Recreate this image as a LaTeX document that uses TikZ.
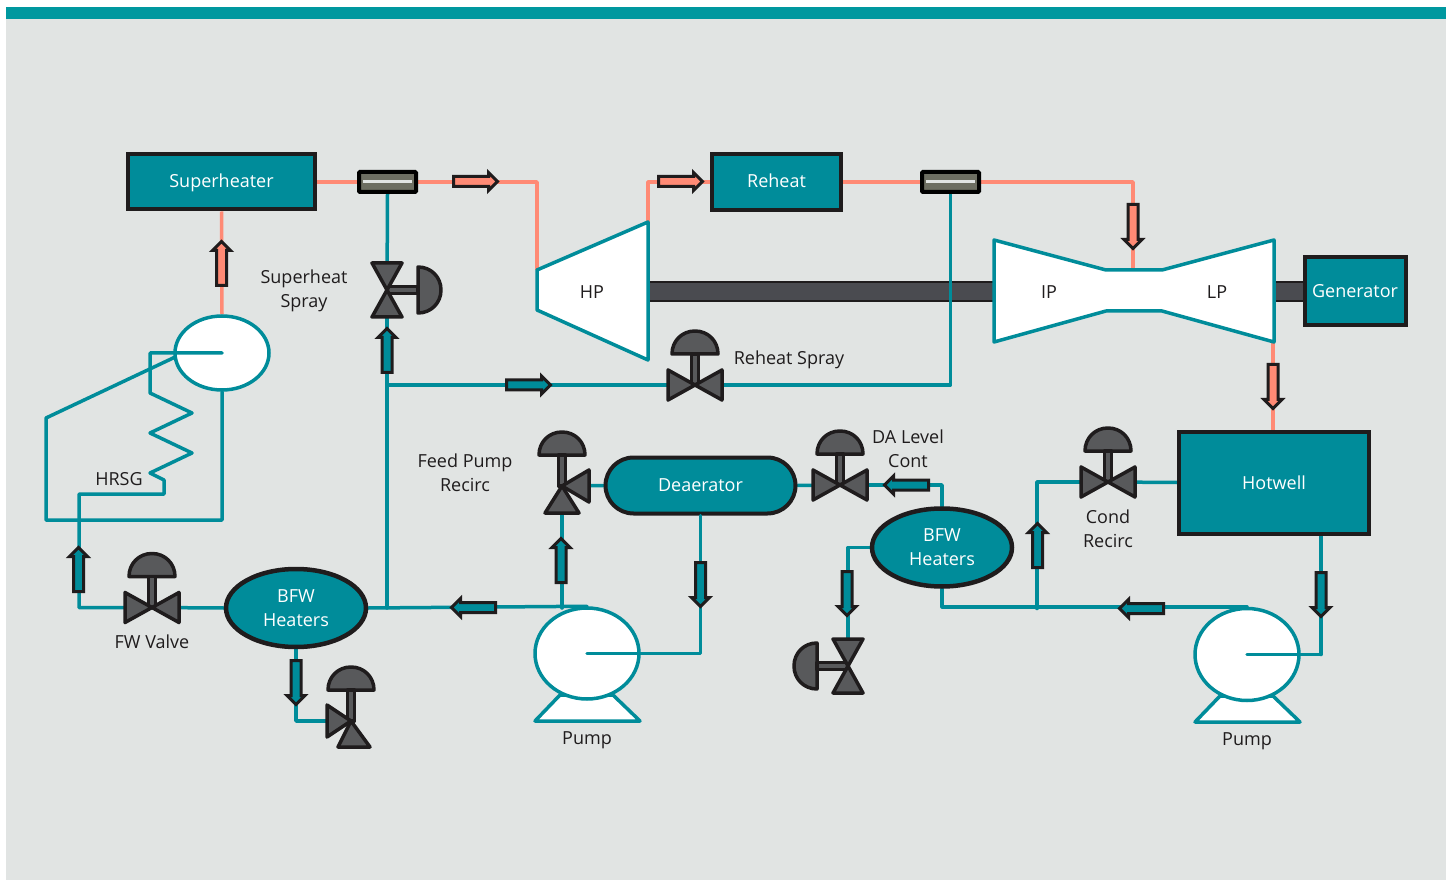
\documentclass[tikz,border=0pt]{standalone}
\usepackage{fontspec}
\setmainfont{Open Sans}
\usetikzlibrary{shapes.geometric,shapes.arrows,calc}
\definecolor{bgc}{HTML}{E1E4E3}
\definecolor{barc}{HTML}{00989F}
\definecolor{teal1}{HTML}{008C9A}
\definecolor{salm}{HTML}{FF8A75}
\definecolor{ink}{HTML}{1F1C1D}
\definecolor{vgray}{HTML}{58595B}
\definecolor{shaftc}{HTML}{4A4B50}
\definecolor{desupc}{HTML}{6D6E62}
\pgfdeclarelayer{bglines}
\pgfsetlayers{bglines,main}
\newcommand{\domeparts}{%
  \path[valveparts] (-23,-31) .. controls (-23,-44) and (-13,-54) .. (0,-54) .. controls (13,-54) and (23,-44) .. (23,-31) -- cycle;
  \path[valveparts] (-3.5,-31) rectangle (3.5,0);}
\newcommand{\boxtext}[1]{\raisebox{0pt}[14pt][2.4pt]{#1}}
\tikzset{
  x=1pt,y=-1pt,
  lbl/.style={font=\fontsize{18}{24}\selectfont,text=ink,align=center,inner sep=0},
  box/.style={draw=ink,line width=4pt,fill=teal1,rectangle,inner sep=0,font=\fontsize{18}{24}\selectfont,text=white,align=center},
  oval/.style={draw=ink,line width=4.5pt,fill=teal1,ellipse,inner sep=0,font=\fontsize{18}{24}\selectfont,text=white,align=center},
  hollow/.style={draw=teal1,line width=3.5pt,fill=white,ellipse,inner sep=0},
  tealline/.style={draw=teal1,line width=3.5pt,line join=round,line cap=round},
  salmline/.style={draw=salm,line width=3.5pt,line join=round},
  desup/.style={draw=black,line width=4pt,fill=desupc,rectangle,rounded corners=1pt,minimum width=57pt,minimum height=20pt,inner sep=0},
  desupbar/.style={fill=bgc,rectangle,minimum width=49pt,minimum height=3.5pt,inner sep=0},
  flow/.style={single arrow,draw=ink,line width=3pt,line join=miter,inner sep=0,text height=7pt,text depth=0pt,text width=0pt,minimum height=44pt,minimum width=15pt,single arrow head extend=4pt,single arrow head indent=0pt},
  salmflow/.style={flow,fill=salm},
  tealflow/.style={flow,fill=teal1},
  valveparts/.style={draw=ink,line width=3.5pt,fill=vgray,line join=round},
  valvetwo/.pic={\domeparts
    \path[valveparts] (0,0) -- (-27,-15) -- (-27,15) -- cycle;
    \path[valveparts] (0,0) -- (27,-15) -- (27,15) -- cycle;},
  valvethree/.pic={\domeparts
    \path[valveparts] (0,0) -- (27,-16) -- (27,16) -- cycle;
    \path[valveparts] (0,0) -- (-17,27) -- (17,27) -- cycle;},
  valvefour/.pic={\domeparts
    \path[valveparts] (0,0) -- (-24,-16) -- (-24,16) -- cycle;
    \path[valveparts] (0,0) -- (-13,26) -- (19,26) -- cycle;},
}
\begin{document}
\begin{tikzpicture}
\useasboundingbox (0,0) rectangle (1451,882);
\begin{pgfonlayer}{bglines}
\fill[bgc] (6,19) rectangle (1446,880);
\fill[barc] (6,7) rectangle (1446,19);
\path[draw=ink,line width=2pt,fill=shaftc] (648,282) rectangle (1306,301);
\end{pgfonlayer}

% junction coordinates
\coordinate (hpsw) at (537,270);
\coordinate (hpne) at (648,222);
\coordinate (hpse) at (648,360);
\coordinate (hpnw) at (537,310);
\coordinate (neck) at (1133,270);
\coordinate (lpbot) at (1273,340);
\coordinate (vspray) at (387,290);
\coordinate (vreheat) at (695,385);
\coordinate (vfeed) at (562,486);
\coordinate (vda) at (840,485);
\coordinate (vcond) at (1108,482);
\coordinate (vfw) at (152,607.5);
\coordinate (vbfwa) at (351,721);
\coordinate (vbfwb) at (848,666);
\coordinate (pumpaeye) at (587,653.5);
\coordinate (pumpbeye) at (1247,654.5);
\coordinate (drumeye) at (222,353);
\coordinate (sprayjoin) at (387,385);
\coordinate (mainjoin) at (387,608);
\coordinate (feedjoin) at (562,608);
\coordinate (condjoin) at (1037,608.5);
\coordinate (hwdrop) at (1321,534);
\coordinate (hwcorner) at (1321,654.5);

% boxes
\node[box,minimum width=187.5pt,minimum height=55pt] (superheater) at (221.5,182) {\boxtext{Superheater}};
\node[box,minimum width=129.5pt,minimum height=56pt] (reheat) at (776.5,182) {\boxtext{Reheat}};
\node[box,minimum width=101pt,minimum height=68pt] (generator) at (1355,291.5) {\boxtext{Generator}};
\node[box,minimum width=190pt,minimum height=102pt] (hotwell) at (1274,482.5) {Hotwell};
\node[box,rounded corners=28pt,minimum width=190pt,minimum height=56pt] (deaerator) at (700.5,485.5) {\boxtext{Deaerator}};
\node[oval,minimum width=140pt,minimum height=78pt] (bfwa) at (296,608) {BFW\\Heaters};
\node[oval,minimum width=140pt,minimum height=78pt] (bfwb) at (942,547.5) {BFW\\Heaters};
\node[desup] (desupa) at (387.5,182) {};
\node[desupbar] (desupabar) at (387.5,181.5) {};
\node[desup] (desupb) at (950.5,182) {};
\node[desupbar] (desupbbar) at (950.5,181.5) {};

% turbines
\path[draw=teal1,line width=3.5pt,fill=white,line join=round] (hpsw) -- (hpne) -- (hpse) -- (hpnw) -- cycle;
\path[draw=teal1,line width=3.5pt,fill=white,line join=round] (994,240) -- (1106,270) -- (1162,270) -- (1274,240) -- (1274,342) -- (1162,311) -- (1106,311) -- (994,342) -- cycle;

% pumps and drum
\path[draw=teal1,line width=3.5pt,fill=white,line join=round] (560,695) -- (535,721) -- (640,721) -- (613,695) -- cycle;
\path[draw=teal1,line width=3.5pt,fill=white,line join=round] (1220,696) -- (1195,722) -- (1300,722) -- (1273,696) -- cycle;
\node[hollow,minimum width=104pt,minimum height=91pt] (pumpa) at (pumpaeye) {};
\node[hollow,minimum width=104pt,minimum height=92pt] (pumpb) at (pumpbeye) {};
\node[hollow,minimum width=94pt,minimum height=74pt] (drum) at (drumeye) {};

% connectors under the shapes
\begin{pgfonlayer}{bglines}
\path[salmline] (superheater.east) -- (desupa.west);
\path[salmline] (desupa.east) -| (hpsw);
\path[salmline] (hpne) |- (reheat.west);
\path[salmline] (reheat.east) -- (desupb.west);
\path[salmline] (desupb.east) -| (neck);
\path[salmline] (lpbot) -- (hotwell.north -| lpbot);
\path[salmline] (superheater.south) -- (drum.north);
\path[tealline] (desupa.south) -- (vspray);
\path[tealline] (vspray) -- (mainjoin);
\path[tealline] (sprayjoin) -- (vreheat);
\path[tealline] (vreheat) -| (desupb.south);
\path[tealline] (bfwa.east) -- (pumpa.north);
\path[tealline] (feedjoin) -- (vfeed);
\path[tealline] (vfeed) -- (deaerator.west);
\path[tealline] (deaerator.east) -- (vda);
\path[tealline] (vda) -| (bfwb.north);
\path[tealline] (bfwb.west) -| (vbfwb);
\path[tealline] (bfwb.south) |- (pumpb.north);
\path[tealline] (condjoin) |- (vcond);
\path[tealline] (vcond) -- (hotwell.west);
\path[tealline] (hwdrop) -- (hwcorner);
\path[tealline] (vfw) -- (bfwa.west);
\path[tealline] (bfwa.south) |- (vbfwa);
\end{pgfonlayer}

% connectors drawn over the hollow shapes
\path[tealline] (pumpaeye) -| (deaerator.south);
\path[tealline] (pumpbeye) -- (hwcorner);
\coordinate (coila) at (150,353);
\path[tealline] (drumeye) -- (coila) -- (150,393) -- (192,413) -- (150,433) -- (192,453) -- (150,473) -- (164,480) -- (164,494) -- (79,494) -- (79,607.5) -- (vfw);
\path[tealline] (drum.west) ++(2,4) -- (46,418) -- (46,520) -- (222,520) -- (drum.south);

% valves
\pic at (vreheat) {valvetwo};
\pic at (vda) {valvetwo};
\pic at (vcond) {valvetwo};
\pic at (vfw) {valvetwo};
\pic[rotate=-90] at (vspray) {valvetwo};
\pic[rotate=90] at (vbfwb) {valvetwo};
\pic at (vfeed) {valvethree};
\pic at (vbfwa) {valvefour};

% flow arrows
\node[salmflow] (fa) at (473,181.5) {};
\node[salmflow] (fb) at (678,181.5) {};
\node[salmflow,rotate=-90] (fc) at (1133,224) {};
\node[salmflow,rotate=-90] (fd) at (1273,384) {};
\node[salmflow,rotate=90] (fe) at (221.5,266) {};
\node[tealflow,rotate=90] (ff) at (387,353) {};
\node[tealflow] (fg) at (526,385) {};
\node[tealflow,rotate=180] (fh) at (476,607.5) {};
\node[tealflow,rotate=90] (fi) at (561,563) {};
\node[tealflow,rotate=-90] (fj) at (700.5,582) {};
\node[tealflow,rotate=90] (fk) at (78.5,572) {};
\node[tealflow,rotate=-90] (fl) at (296,680) {};
\node[tealflow,rotate=180] (fm) at (909,485) {};
\node[tealflow,rotate=-90] (fn) at (847,591) {};
\node[tealflow,rotate=90] (fo) at (1037.5,548) {};
\node[tealflow,rotate=180] (fp) at (1144,608.5) {};
\node[tealflow,rotate=-90] (fq) at (1321,592) {};

% labels
\node[lbl] (tspray) at (304,290.5) {Superheat\\Spray};
\node[lbl] (treheat) at (789,360) {Reheat Spray};
\node[lbl] (tda) at (908,449) {DA Level\\Cont};
\node[lbl] (tfeed) at (465,473) {Feed Pump\\Recirc};
\node[lbl] (tcond) at (1108,529) {Cond\\Recirc};
\node[lbl] (tfw) at (152,642) {FW Valve};
\node[lbl] (thrsg) at (119,479) {HRSG};
\node[lbl] (thp) at (592,292) {HP};
\node[lbl] (tip) at (1049,292) {IP};
\node[lbl] (tlp) at (1217,292) {LP};
\node[lbl] (tpa) at (587,740) {Pump};
\node[lbl] (tpb) at (1247,741) {Pump};
\end{tikzpicture}
\end{document}
